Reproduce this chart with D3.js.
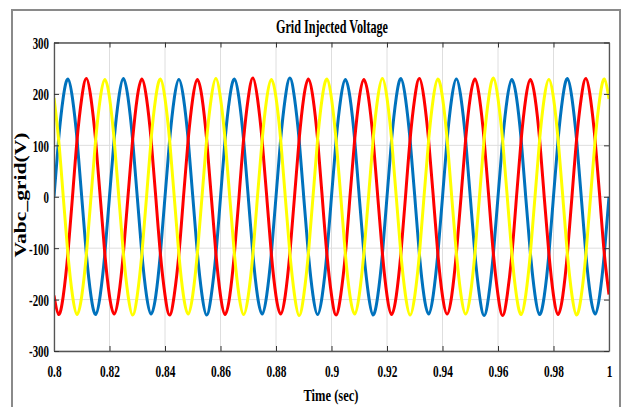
<!DOCTYPE html>
<html>
<head>
<meta charset="utf-8">
<script src="https://cdn.jsdelivr.net/npm/d3@7"></script>
<style>
  html, body { margin: 0; padding: 0; background: #fff; }
  svg { display: block; }
  text { font-family: "Liberation Serif", "Times New Roman", serif; font-weight: bold; fill: #000; }
</style>
</head>
<body>
<svg id="chart" width="623" height="407"></svg>
<script>
// ---- data ----
const titleText = "Grid Injected Voltage";
const xLabelText = "Time (sec)";
const yLabelText = "Vabc_grid(V)";
const xTicks = [0.8, 0.82, 0.84, 0.86, 0.88, 0.9, 0.92, 0.94, 0.96, 0.98, 1];
const xTickLabels = ["0.8", "0.82", "0.84", "0.86", "0.88", "0.9", "0.92", "0.94", "0.96", "0.98", "1"];
const yTicks = [-300, -200, -100, 0, 100, 200, 300];
const yTickLabels = ["-300", "-200", "-100", "0", "100", "200", "300"];
const tStart = 0.8;
const tStep = 0.02 / 12; // sampling interval of the values below (s)

const phaseA = [ // blue
  0, 112, 193, 229, 191, 110, -1, -112, -193, -229, -191, -110,
  1, 111, 192, 230, 193, 111, 0, -111, -192, -228, -193, -111,
  0, 110, 191, 228, 192, 112, 1, -110, -191, -230, -192, -112,
  -1, 112, 193, 229, 191, 110, 0, -112, -193, -228, -191, -110,
  0, 111, 192, 231, 192, 111, -1, -111, -192, -229, -192, -111,
  1, 110, 191, 228, 193, 112, 0, -110, -191, -230, -193, -112,
  0, 112, 193, 230, 191, 110, 1, -112, -193, -228, -191, -110,
  -1, 111, 192, 229, 192, 111, 0, -111, -192, -231, -192, -111,
  0, 110, 191, 228, 193, 112, -1, -110, -191, -229, -193, -112,
  1, 112, 193, 230, 191, 110, 0, -112, -193, -228, -191, -110,
  0
];
const phaseB = [ // red
  -192, -229, -193, -111, 0, 112, 192, 230, 191, 110, -1, -112,
  -193, -228, -192, -110, 1, 111, 193, 229, 192, 111, 0, -111,
  -191, -230, -191, -112, 0, 110, 191, 228, 193, 112, 1, -110,
  -192, -229, -193, -111, -1, 112, 192, 231, 191, 110, 0, -112,
  -193, -228, -192, -110, 0, 111, 193, 229, 192, 111, -1, -111,
  -191, -230, -191, -112, 1, 110, 191, 228, 193, 112, 0, -110,
  -192, -229, -193, -111, 0, 112, 192, 230, 191, 110, 1, -112,
  -193, -228, -192, -110, -1, 111, 193, 229, 192, 111, 0, -111,
  -191, -231, -191, -112, 0, 110, 191, 228, 193, 112, -1, -110,
  -192, -229, -193, -111, 1, 112, 192, 230, 191, 110, 0, -112,
  -190
];
const phaseC = [ // yellow
  192, 111, 0, -111, -192, -229, -193, -112, 0, 110, 191, 228,
  193, 112, 1, -110, -191, -230, -192, -111, -1, 112, 193, 229,
  191, 110, 0, -112, -193, -228, -191, -110, 0, 111, 192, 230,
  192, 111, -1, -111, -192, -229, -193, -112, 1, 110, 191, 228,
  193, 112, 0, -110, -191, -231, -192, -111, 0, 112, 193, 229,
  191, 110, 1, -112, -193, -228, -191, -110, -1, 111, 192, 230,
  192, 111, 0, -111, -192, -230, -193, -112, 0, 110, 191, 229,
  193, 112, -1, -110, -191, -228, -192, -111, 1, 112, 193, 231,
  191, 110, 0, -112, -193, -229, -191, -110, 0, 111, 192, 228,
  192, 111, 1, -111, -192, -230, -193, -112, -1, 110, 191, 229,
  190
];
const seriesColors = ["#0072BD", "#FF0000", "#FFFF00"];

// ---- layout ----
const svg = d3.select("#chart");
const W = 623, H = 407;
const m = { left: 54, right: 609, top: 42.5, bottom: 351 };

// outer figure frame
svg.append("path")
  .attr("d", `M12,${H + 2} L12,10 L620,10 L620,${H + 2}`)
  .attr("fill", "none").attr("stroke", "#8a8a8a").attr("stroke-width", 2);

const x = d3.scaleLinear().domain([0.8, 1]).range([m.left, m.right]);
const y = d3.scaleLinear().domain([-300, 300]).range([m.bottom, m.top]);

// grid
const grid = svg.append("g");
grid.selectAll("line.v").data(xTicks).join("line")
  .attr("x1", d => x(d)).attr("x2", d => x(d))
  .attr("y1", m.top).attr("y2", m.bottom)
  .attr("stroke", "#dedede").attr("stroke-width", 1);
grid.selectAll("line.h").data(yTicks).join("line")
  .attr("x1", m.left).attr("x2", m.right)
  .attr("y1", d => y(d)).attr("y2", d => y(d))
  .attr("stroke", "#dedede").attr("stroke-width", 1);

// series
const times = phaseA.map((_, i) => tStart + i * tStep);
const line = d3.line()
  .x((d, i) => x(times[i]))
  .y(d => y(d))
  .curve(d3.curveNatural);
const clip = svg.append("clipPath").attr("id", "clip")
  .append("rect").attr("x", m.left).attr("y", m.top - 5)
  .attr("width", m.right - m.left).attr("height", m.bottom - m.top + 10);
const lines = svg.append("g").attr("clip-path", "url(#clip)");
[phaseA, phaseB, phaseC].forEach((s, k) => {
  lines.append("path").datum(s)
    .attr("d", line)
    .attr("fill", "none")
    .attr("stroke", seriesColors[k])
    .attr("stroke-width", 3)
    .attr("stroke-linejoin", "round");
});

// axes
const axisColor = "#555";
const xAxis = d3.axisBottom(x).tickValues(xTicks)
  .tickFormat((d, i) => xTickLabels[i]).tickSizeInner(-5).tickSizeOuter(0).tickPadding(14);
const gx = svg.append("g").attr("transform", `translate(0,${m.bottom})`).call(xAxis);
const gxTop = svg.append("g").attr("transform", `translate(0,${m.top})`)
  .call(d3.axisTop(x).tickValues(xTicks).tickFormat("").tickSizeInner(-5).tickSizeOuter(0));
const yAxis = d3.axisLeft(y).tickValues(yTicks)
  .tickFormat((d, i) => yTickLabels[i]).tickSizeInner(-5).tickSizeOuter(0).tickPadding(10);
const gy = svg.append("g").attr("transform", `translate(${m.left},0)`).call(yAxis);
const gyRight = svg.append("g").attr("transform", `translate(${m.right},0)`)
  .call(d3.axisRight(y).tickValues(yTicks).tickFormat("").tickSizeInner(-5).tickSizeOuter(0));

[gx, gxTop, gy, gyRight].forEach(g => {
  g.select(".domain").attr("stroke", axisColor).attr("stroke-width", 1.3);
  g.selectAll(".tick line").attr("stroke", "#333").attr("stroke-width", 1);
  g.selectAll("text").attr("font-family", null).attr("font-size", null);
});
gx.selectAll(".tick text")
  .style("font-size", "17px")
  .attr("dy", null).attr("y", null)
  .attr("transform", "translate(0,26) scale(0.67,1)");
gy.selectAll(".tick text")
  .style("font-size", "17px")
  .attr("dy", "0.35em").attr("x", null)
  .attr("text-anchor", "end")
  .attr("transform", "translate(-5,0) scale(0.64,1)");

// title and labels
svg.append("text").text(titleText)
  .attr("x", 332).attr("y", 33).attr("text-anchor", "middle")
  .style("font-size", "19px")
  .attr("textLength", 112).attr("lengthAdjust", "spacingAndGlyphs");
svg.append("text").text(xLabelText)
  .attr("x", 331).attr("y", 401).attr("text-anchor", "middle")
  .style("font-size", "17px")
  .attr("textLength", 55).attr("lengthAdjust", "spacingAndGlyphs");
svg.append("text").text(yLabelText)
  .attr("transform", "translate(26,195) rotate(-90)")
  .attr("text-anchor", "middle")
  .style("font-size", "17px")
  .attr("textLength", 125).attr("lengthAdjust", "spacingAndGlyphs");
</script>
</body>
</html>
